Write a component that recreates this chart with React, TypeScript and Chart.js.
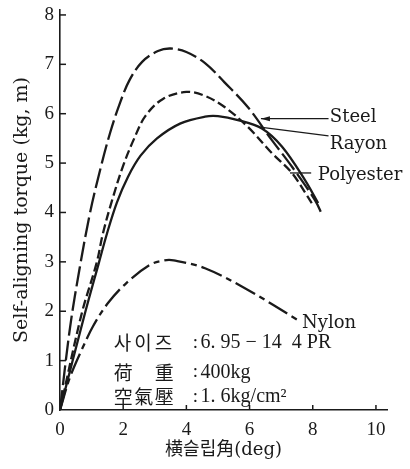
import React, { useEffect, useRef } from 'react';
import { Chart, registerables } from 'chart.js';
Chart.register(...registerables);

// ---- data (slip angle deg, torque kg·m) ----
const steelX = [0, 0.32, 0.63, 0.95, 1.27, 1.58, 1.9, 2.2, 2.6, 3.1, 3.5, 4.0, 4.6, 5.2, 5.95, 6.7, 7.35, 8.07, 8.3];
const steelY = [0, 1.68, 2.9, 3.99, 4.86, 5.6, 6.22, 6.68, 7.05, 7.27, 7.32, 7.25, 7.02, 6.64, 6.13, 5.47, 4.92, 4.25, 3.95];
const rayonX = [0, 0.69, 1.16, 1.36, 1.65, 2.0, 2.35, 2.7, 3.26, 4.0, 4.59, 5.22, 5.95, 6.71, 7.34, 7.85, 7.97];
const rayonY = [0, 1.96, 2.98, 3.58, 4.25, 4.95, 5.5, 5.95, 6.3, 6.44, 6.36, 6.13, 5.73, 5.2, 4.8, 4.31, 4.19];
const polyX = [0, 0.79, 1.23, 1.49, 1.8, 2.15, 2.55, 3.07, 3.8, 4.59, 5.0, 5.63, 6.39, 7.03, 7.75, 8.17];
const polyY = [0, 1.96, 2.98, 3.58, 4.2, 4.72, 5.15, 5.5, 5.8, 5.94, 5.95, 5.87, 5.7, 5.33, 4.66, 4.19];
const nylonX = [0, 0.32, 0.73, 1.05, 1.5, 2.1, 2.85, 3.3, 3.6, 4.59, 5.95, 7.53];
const nylonY = [0, 0.67, 1.28, 1.7, 2.15, 2.57, 2.94, 3.03, 3.03, 2.87, 2.43, 1.82];

const xTicks = [0, 2, 4, 6, 8, 10];
const yTicks = [0, 1, 2, 3, 4, 5, 6, 7, 8];

const seriesNames = ['Steel', 'Rayon', 'Polyester', 'Nylon'];
const infoLabels = ['사이즈', '荷重', '空氣壓'];
const infoValues = ['6. 95 − 14  4 PR', '400kg', '1. 6kg/cm²'];

const SERIF = '"Liberation Serif", "DejaVu Serif", "Noto Sans CJK KR", serif';
const WIDE = '"DejaVu Serif", "Liberation Serif", "Noto Sans CJK KR", serif';
const CJK = '"Noto Sans CJK KR", "Noto Sans CJK JP", sans-serif';
const INK = '#1a1a1a';

const toPts = (xs: number[], ys: number[]) => xs.map((x, i) => ({ x, y: ys[i] }));

const decorPlugin = {
  id: 'decor',
  afterDraw(chart: any) {
    const ctx = chart.ctx;
    const xs = chart.scales.x;
    const ys = chart.scales.y;
    const px = (v: number) => xs.getPixelForValue(v);
    const py = (v: number) => ys.getPixelForValue(v);
    const area = chart.chartArea;
    ctx.save();
    ctx.strokeStyle = INK;
    ctx.fillStyle = INK;
    ctx.lineWidth = 1.5;
    // inward ticks
    xTicks.forEach((t) => {
      if (t === 0) return;
      ctx.beginPath();
      ctx.moveTo(px(t), area.bottom);
      ctx.lineTo(px(t), area.bottom - 5);
      ctx.stroke();
    });
    yTicks.forEach((t) => {
      if (t === 0) return;
      ctx.beginPath();
      ctx.moveTo(area.left, py(t));
      ctx.lineTo(area.left + 6, py(t));
      ctx.stroke();
    });
    // leader lines
    ctx.lineWidth = 1.3;
    const sx0 = px(8.5), sy0 = py(5.9), sx1 = px(6.36);
    ctx.beginPath();
    ctx.moveTo(sx0, sy0);
    ctx.lineTo(sx1, sy0);
    ctx.stroke();
    ctx.beginPath();
    ctx.moveTo(sx1, sy0);
    ctx.lineTo(sx1 + 9, sy0 - 2.5);
    ctx.lineTo(sx1 + 9, sy0 + 2.5);
    ctx.closePath();
    ctx.fill();
    ctx.beginPath();
    ctx.moveTo(px(8.5), py(5.55));
    ctx.lineTo(px(6.33), py(5.73));
    ctx.stroke();
    ctx.beginPath();
    ctx.moveTo(px(7.28), py(4.8));
    ctx.lineTo(px(7.95), py(4.8));
    ctx.stroke();

    // series labels
    ctx.font = '18px ' + WIDE;
    ctx.textBaseline = 'middle';
    ctx.textAlign = 'left';
    ctx.fillText(seriesNames[0], px(8.54), py(5.92));
    ctx.fillText(seriesNames[1], px(8.54), py(5.38));
    ctx.fillText(seriesNames[2], px(8.16), py(4.76));
    ctx.fillText(seriesNames[3], px(7.66), py(1.76));

    // info block
    const rows = [1.36, 0.76, 0.27];
    const lx = px(1.7);
    rows.forEach((yv, i) => {
      const y = py(yv);
      ctx.font = '19px ' + CJK;
      const chars = Array.from(infoLabels[i]);
      if (chars.length === 2) {
        ctx.fillText(chars[0], lx, y);
        ctx.fillText(chars[1], lx + 41, y);
      } else {
        chars.forEach((c, k) => ctx.fillText(c, lx + k * 20.5, y));
      }
      ctx.font = '19px ' + SERIF;
      ctx.fillText(':', px(4.2), y);
      ctx.font = '20px ' + SERIF;
      ctx.fillText(infoValues[i], px(4.45), y);
    });
    ctx.restore();
  },
};

export default function App() {
  const ref = useRef<HTMLCanvasElement>(null);
  useEffect(() => {
    if (!ref.current) return;
    const common = { pointRadius: 0, borderColor: INK, borderWidth: 2.3, fill: false, tension: 0.35 };
    const chart = new Chart(ref.current, {
      type: 'line',
      data: {
        datasets: [
          { ...common, label: seriesNames[0], data: toPts(steelX, steelY), borderDash: [20, 5] },
          { ...common, label: seriesNames[1], data: toPts(rayonX, rayonY), borderDash: [9, 4] },
          { ...common, label: seriesNames[2], data: toPts(polyX, polyY) },
          { ...common, label: seriesNames[3], data: toPts(nylonX, nylonY), borderDash: [22, 5, 6, 5] },
        ],
      },
      options: {
        animation: false,
        responsive: false,
        maintainAspectRatio: false,
        layout: { padding: { left: 0, top: 10, right: 23, bottom: 0 } },
        plugins: { legend: { display: false }, tooltip: { enabled: false } },
        scales: {
          x: {
            type: 'linear',
            min: 0,
            max: 10.35,
            afterBuildTicks: (s: any) => { s.ticks = xTicks.map((v) => ({ value: v })); },
            afterFit: (s: any) => { s.height = 59; s.paddingLeft = 0; s.paddingRight = 0; },
            grid: { display: true, drawOnChartArea: false, drawTicks: false },
            border: { display: true, color: INK, width: 1.6 },
            ticks: { color: INK, font: { family: SERIF, size: 19 }, padding: 9, maxRotation: 0 },
            title: { display: true, text: '横슬립角(deg)', color: INK, font: { family: WIDE, size: 18 }, padding: { top: 0, bottom: 8 } },
          },
          y: {
            type: 'linear',
            min: 0,
            max: 8.1,
            afterBuildTicks: (s: any) => { s.ticks = yTicks.map((v) => ({ value: v })); },
            afterFit: (s: any) => { s.width = 60; s.paddingTop = 0; s.paddingBottom = 0; },
            grid: { display: true, drawOnChartArea: false, drawTicks: false },
            border: { display: true, color: INK, width: 1.6 },
            ticks: { color: INK, font: { family: SERIF, size: 19 }, padding: 6 },
            title: { display: true, text: 'Self-aligning torque (kg, m)', color: INK, font: { family: WIDE, size: 19 }, padding: { top: 11, bottom: 0 } },
          },
        },
      },
      plugins: [decorPlugin],
    });
    return () => chart.destroy();
  }, []);
  return (
    <div style={{ position: 'fixed', left: 0, top: 0, width: 410, height: 469, background: '#fff' }}>
      <canvas ref={ref} width={410} height={469} style={{ width: 410, height: 469 }} />
    </div>
  );
}
